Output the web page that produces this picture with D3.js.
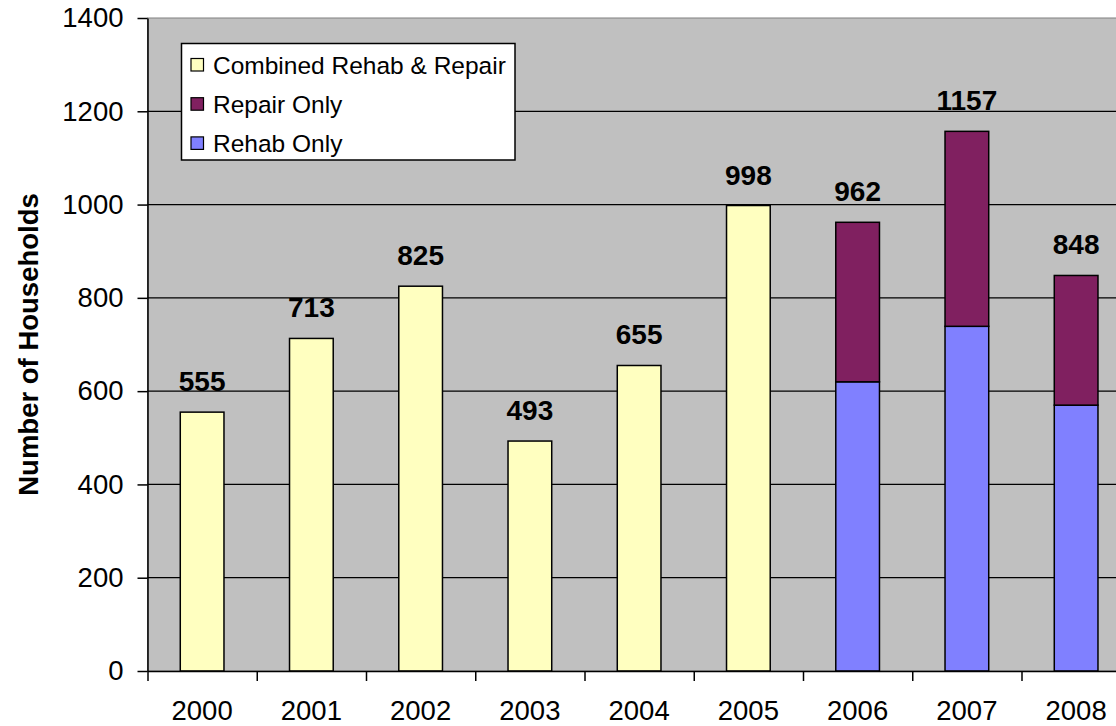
<!DOCTYPE html>
<html>
<head>
<meta charset="utf-8">
<script src="https://cdn.jsdelivr.net/npm/d3@7"></script>
<style>
  body { margin: 0; background: #fff; }
  svg { display: block; font-family: 'Liberation Sans', Arial, sans-serif; }
</style>
</head>
<body>
<svg id="chart" width="1116" height="726"></svg>
<script>
const years = ['2000', '2001', '2002', '2003', '2004', '2005', '2006', '2007', '2008'];
const combined = [555, 713, 825, 493, 655, 998, 0, 0, 0];
const rehabOnly = [0, 0, 0, 0, 0, 0, 620, 739, 570];
const repairOnly = [0, 0, 0, 0, 0, 0, 342, 418, 278];
const yTicks = [0, 200, 400, 600, 800, 1000, 1200, 1400];
const seriesNames = ['Combined Rehab & Repair', 'Repair Only', 'Rehab Only'];
const colors = { combined: '#FFFFC0', repair: '#802060', rehab: '#8080FF' };

const margin = { top: 18, left: 147.5 };
const step = 109.25;
const width = step * years.length;
const height = 653;

const rows = years.map((y, i) => ({
  year: y, rehab: rehabOnly[i], repair: repairOnly[i], combined: combined[i]
}));
const keys = ['rehab', 'repair', 'combined'];
const stacked = d3.stack().keys(keys)(rows);

const x = d3.scaleBand().domain(years).range([0, width]).paddingInner(0.6).paddingOuter(0.3);
const xEdge = d3.scaleLinear().domain([0, years.length]).range([0, width]);
const y = d3.scaleLinear().domain([0, 1400]).range([height, 0]);

const svg = d3.select('#chart');
const g = svg.append('g').attr('transform', `translate(${margin.left},${margin.top})`);

// plot area
g.append('rect')
  .attr('width', width).attr('height', height)
  .attr('fill', '#C0C0C0')
  .attr('stroke', '#808080').attr('stroke-width', 1);

// gridlines
g.append('g').selectAll('line')
  .data(yTicks.filter(t => t > 0 && t < 1400))
  .enter().append('line')
  .attr('x1', 0).attr('x2', width)
  .attr('y1', d => y(d)).attr('y2', d => y(d))
  .attr('stroke', '#000').attr('stroke-width', 1.2);

// bars
g.append('g').selectAll('g')
  .data(stacked)
  .enter().append('g')
  .attr('fill', d => colors[d.key])
  .selectAll('rect')
  .data(d => d.filter(s => s[1] - s[0] > 0))
  .enter().append('rect')
  .attr('x', d => x(d.data.year))
  .attr('y', d => y(d[1]))
  .attr('width', x.bandwidth())
  .attr('height', d => y(d[0]) - y(d[1]))
  .attr('stroke', '#000').attr('stroke-width', 1.5);

// total labels
g.append('g').selectAll('text')
  .data(rows)
  .enter().append('text')
  .attr('x', d => x(d.year) + x.bandwidth() / 2)
  .attr('y', d => y(d.rehab + d.repair + d.combined) - 21)
  .attr('text-anchor', 'middle')
  .style('font-size', '28px').style('font-weight', 'bold')
  .text(d => d.rehab + d.repair + d.combined);

// y axis
const yAxis = g.append('g')
  .call(d3.axisLeft(y).tickValues(yTicks).tickFormat(d3.format('d'))
    .tickSize(10).tickPadding(14).tickSizeOuter(0));
yAxis.select('.domain').attr('stroke-width', 1.5);
yAxis.selectAll('.tick line').attr('stroke-width', 1.5);
yAxis.selectAll('text').style('font-size', '27.5px').attr('fill', '#000');

// x axis: ticks at category edges, labels at centres
const xTickAxis = g.append('g')
  .attr('transform', `translate(0,${height})`)
  .call(d3.axisBottom(xEdge).tickValues(d3.range(years.length + 1)).tickSize(10).tickFormat('').tickSizeOuter(0));
xTickAxis.select('.domain').attr('stroke-width', 1.5);
xTickAxis.selectAll('.tick line').attr('stroke-width', 1.5);

const xLabelAxis = g.append('g')
  .attr('transform', `translate(0,${height})`)
  .call(d3.axisBottom(x).tickSize(0).tickPadding(29));
xLabelAxis.select('.domain').remove();
xLabelAxis.selectAll('text').style('font-size', '27.5px').attr('fill', '#000');

// y axis title
svg.append('text')
  .attr('transform', `translate(38,${margin.top + height / 2}) rotate(-90)`)
  .attr('text-anchor', 'middle')
  .style('font-size', '27.5px').style('font-weight', 'bold')
  .text('Number of Households');

// legend
const legend = svg.append('g').attr('transform', 'translate(181.5,43.5)');
legend.append('rect')
  .attr('width', 333.5).attr('height', 116.5)
  .attr('fill', '#fff').attr('stroke', '#000').attr('stroke-width', 1.5);

const legendColors = [colors.combined, colors.repair, colors.rehab];
const item = legend.selectAll('.legenditem')
  .data(seriesNames)
  .enter().append('g')
  .attr('class', 'legenditem')
  .attr('transform', (d, i) => `translate(0,${21.5 + i * 39.2})`);

item.append('rect')
  .attr('x', 9.5).attr('y', -6.5)
  .attr('width', 12.5).attr('height', 12.5)
  .attr('fill', (d, i) => legendColors[i])
  .attr('stroke', '#000').attr('stroke-width', 1.2);

item.append('text')
  .attr('x', 31.5).attr('y', 8.5)
  .style('font-size', '24.5px')
  .text(d => d);
</script>
</body>
</html>
